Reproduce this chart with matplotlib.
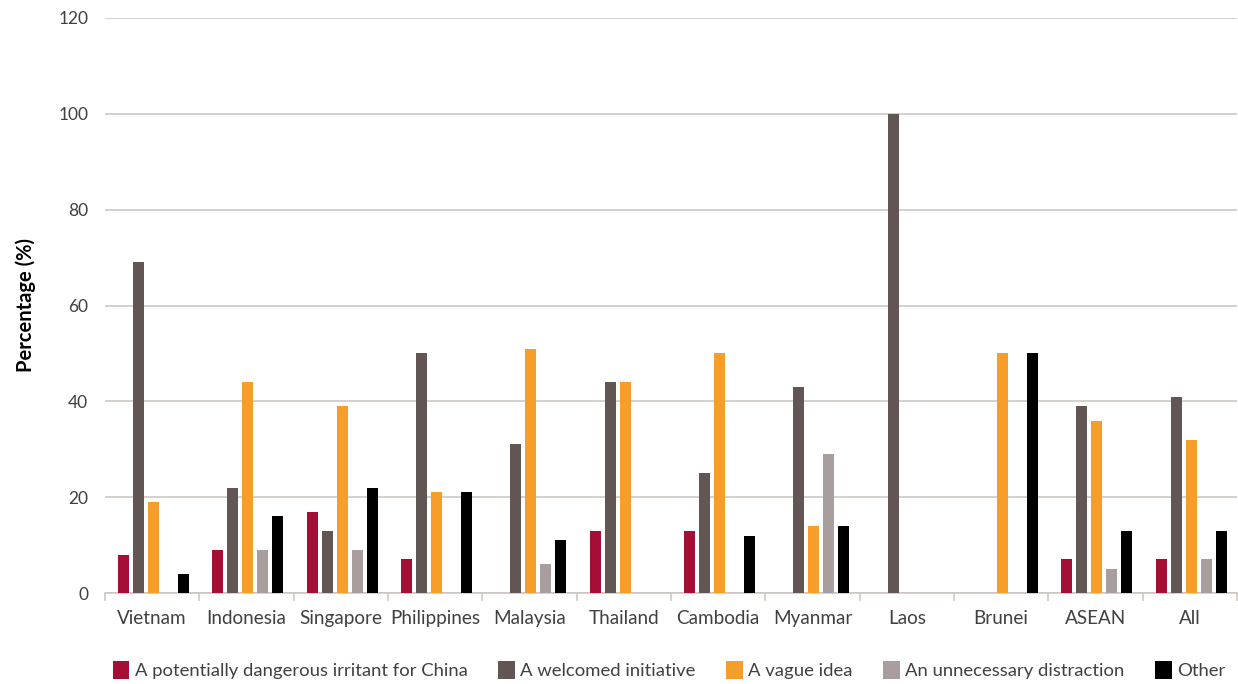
import numpy as np
import matplotlib.pyplot as plt
from matplotlib.patches import Patch

plt.rcParams['font.family'] = ['Lato', 'DejaVu Sans']

countries = ["Vietnam", "Indonesia", "Singapore", "Philippines", "Malaysia", "Thailand",
             "Cambodia", "Myanmar", "Laos", "Brunei", "ASEAN", "All"]
series_names = ["A potentially dangerous irritant for China", "A welcomed initiative",
                "A vague idea", "An unnecessary distraction", "Other"]
irritant = [8, 9, 17, 7, 0, 13, 13, 0, 0, 0, 7, 7]
welcomed = [69, 22, 13, 50, 31, 44, 25, 43, 100, 0, 39, 41]
vague = [19, 44, 39, 21, 51, 44, 50, 14, 0, 50, 36, 32]
distraction = [0, 9, 9, 0, 6, 0, 0, 29, 0, 0, 5, 7]
other = [4, 16, 22, 21, 11, 0, 12, 14, 0, 50, 13, 13]
colors = ["#a50e35", "#625655", "#f79d2a", "#a89e9d", "#000000"]

fig = plt.figure(figsize=(12.38, 6.84), dpi=100)
ax = fig.add_axes([105 / 1238, 1 - 593 / 684, 1132 / 1238, 575 / 684])

x = np.arange(len(countries))
pitch = 0.159
width = 0.117
# five bars per country, side by side
for i, (vals, c) in enumerate(zip([irritant, welcomed, vague, distraction, other], colors)):
    ax.bar(x + (i - 2) * pitch + 0.015, vals, width, color=c, zorder=3)

ax.set_xlim(-0.5, len(countries) - 0.5)
ax.set_ylim(0, 120)
ax.set_yticks(range(0, 121, 20))
ax.yaxis.grid(True, color="#cbc3bf", lw=1.1, zorder=0)
for s in ["left", "right", "top"]:
    ax.spines[s].set_visible(False)
ax.spines["bottom"].set_color("#cbc3bf")
ax.spines["bottom"].set_linewidth(1.1)
ax.set_xticks(x)
ax.set_xticklabels(countries, fontsize=13.6, color="#404040")
ax.set_xticks(np.arange(-0.5, len(countries)), minor=True)
ax.tick_params(axis="x", which="major", length=0, pad=12)
ax.tick_params(axis="x", which="minor", length=6, color="#cbc3bf", width=1.1)
ax.tick_params(axis="y", length=0, pad=12, labelsize=12.5, labelcolor="#404040")
ax.set_ylabel("Percentage (%)", fontsize=14.5, fontweight="bold", labelpad=16)

handles = [Patch(facecolor=c, label=n) for c, n in zip(colors, series_names)]
fig.legend(handles=handles, loc="center", bbox_to_anchor=(0.5404, 1 - 670 / 684), ncol=5,
           frameon=False, fontsize=13.3, handlelength=0.9, handleheight=1.2,
           handletextpad=0.3, columnspacing=1.65, labelcolor="#404040")

fig.savefig("out.png", dpi=100)
